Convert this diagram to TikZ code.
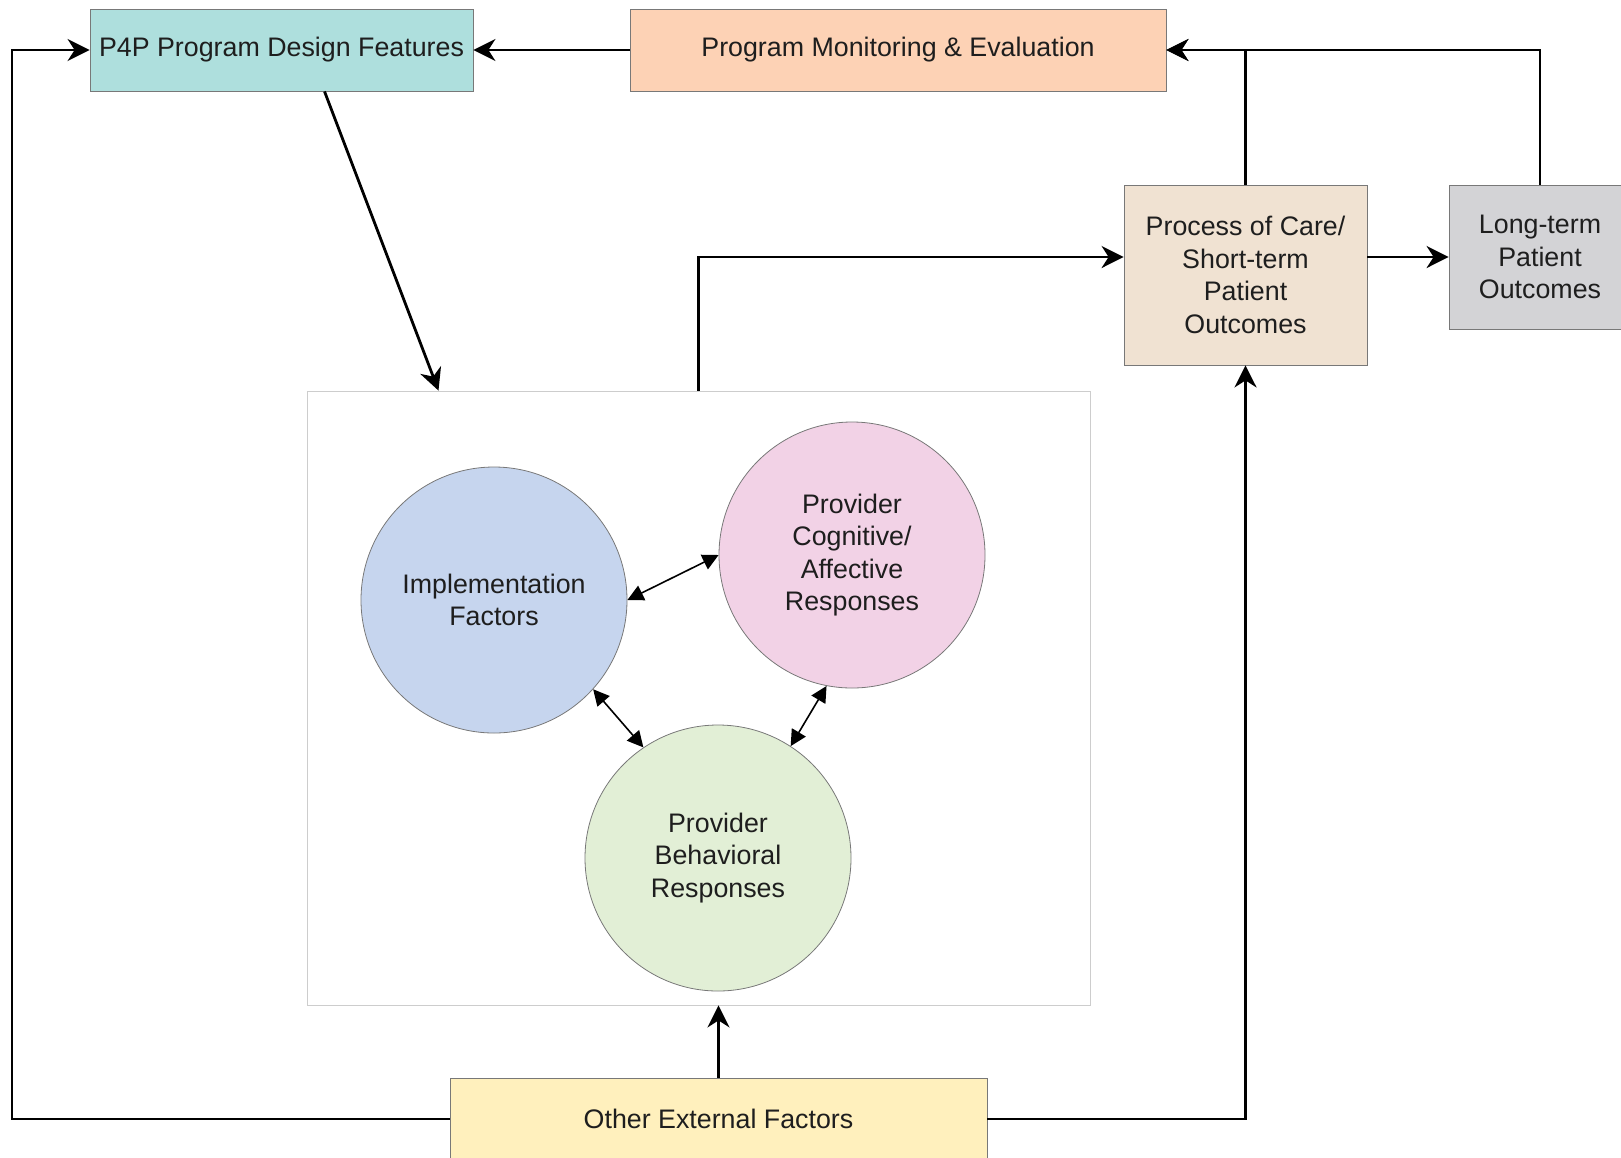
\documentclass[tikz,border=0pt]{standalone}
\usepackage{fontspec}
\setmainfont{Liberation Sans}
\definecolor{pfp_teal}{RGB}{174, 223, 221}
\definecolor{pfp_peach}{RGB}{253, 210, 181}
\definecolor{pfp_sand}{RGB}{240, 226, 210}
\definecolor{pfp_grey}{RGB}{211, 211, 214}
\definecolor{pfp_blue}{RGB}{198, 213, 238}
\definecolor{pfp_pink}{RGB}{242, 210, 230}
\definecolor{pfp_green}{RGB}{226, 239, 214}
\definecolor{pfp_yellow}{RGB}{255, 240, 189}
\definecolor{pfp_edge}{RGB}{120, 120, 120}
\definecolor{pfp_frame}{RGB}{205, 205, 205}
\definecolor{pfp_text}{RGB}{30, 30, 30}
\usetikzlibrary{arrows.meta, positioning, calc}

\begin{document}
\begin{tikzpicture}[x=0.5pt, y=-0.5pt,
            font=\fontsize{13.4}{16.2}\selectfont,
            blk/.style={draw=pfp_edge, align=center, text=pfp_text, inner sep=0pt},
            circ/.style={circle, draw=pfp_edge, align=center, text=pfp_text,
                         minimum size=133pt, inner sep=0pt},
            arr/.style={-{Stealth[length=11pt, width=11pt, inset=3.5pt]}, line width=1.4pt},
            dbl/.style={{Triangle[length=8pt, width=8pt]}-{Triangle[length=8pt, width=8pt]},
                        line width=0.8pt}]
            \useasboundingbox (0,0) rectangle (1621,1157);
            % top row
            \node[blk, fill=pfp_teal, minimum width=191.5pt, minimum height=41pt] (p4p)
              at (281.5,50) {P4P Program Design Features};
            \node[blk, fill=pfp_peach, minimum width=268pt, minimum height=41pt] (pme)
              at (898,50) {Program Monitoring \& Evaluation};
            % outcomes
            \node[blk, fill=pfp_sand, minimum width=121.5pt, minimum height=90pt] (proc)
              at (1245.5,275) {Process of Care/\\Short-term\\Patient\\Outcomes};
            \node[blk, fill=pfp_grey, minimum width=91pt, minimum height=72pt] (lto)
              at (1540,257) {Long-term\\Patient\\Outcomes};
            % provider responses
            \node[draw=pfp_frame, minimum width=391.5pt, minimum height=307pt] (core)
              at (698.5,698) {};
            \node[circ, fill=pfp_blue] (impl) at (494,600) {Implementation\\Factors};
            \node[circ, fill=pfp_pink] (cog) at (852,555) {Provider\\Cognitive/\\Affective\\Responses};
            \node[circ, fill=pfp_green] (beh) at (718,858) {Provider\\Behavioral\\Responses};
            % external
            \node[blk, fill=pfp_yellow, minimum width=268.5pt, minimum height=41pt] (ext)
              at (718.5,1119) {Other External Factors};
            \coordinate (lft) at (12,600);
            \draw[arr] (pme) -- (p4p);
            \draw[arr] (proc.north) |- (pme.east);
            \draw[arr] (lto.north) |- (pme.east);
            \draw[arr] (proc.east |- lto.west) -- (lto.west);
            \draw[arr] (core.north) |- (proc.west |- lto.west);
            \draw[arr] ([xshift=21.5pt]p4p.south) -- ([xshift=-130pt]core.north);
            \draw[arr] (ext.west) -| (lft) |- (p4p.west);
            \draw[arr] (ext.east) -| (proc.south);
            \draw[arr] (ext.north) -- (ext.north |- core.south);
            \draw[dbl] (impl.east) -- (cog.west);
            \draw[dbl] (impl.-42) -- (beh.124);
            \draw[dbl] (cog.-101) -- (beh.57);
          \end{tikzpicture}
\end{document}
